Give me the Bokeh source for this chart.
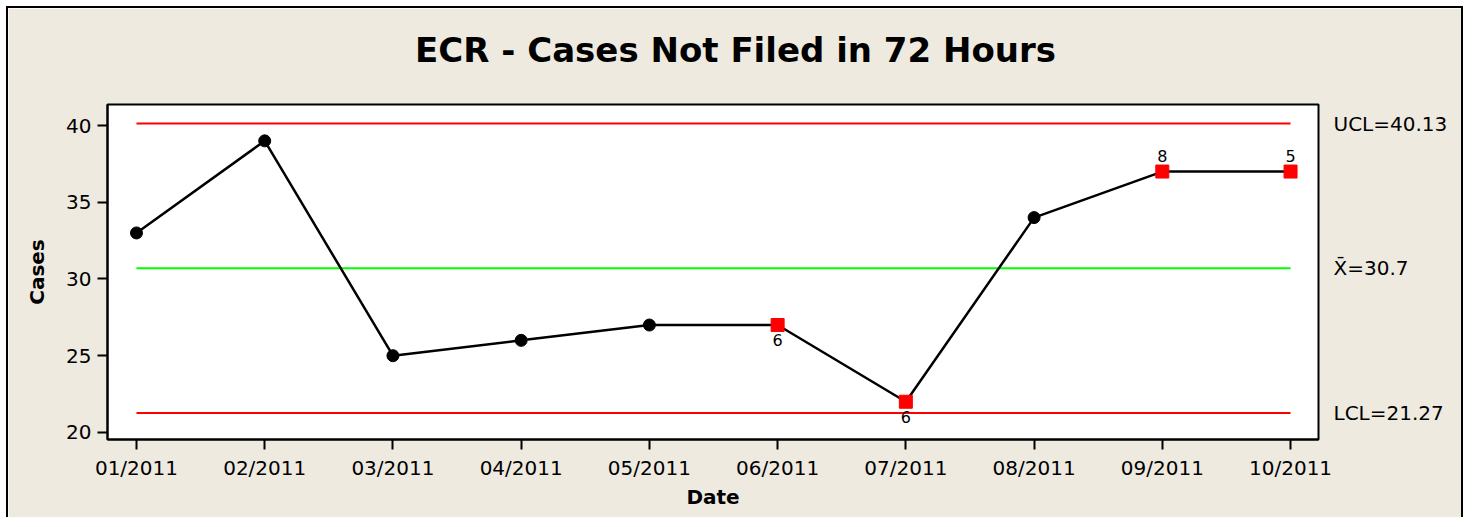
from bokeh.plotting import figure
from bokeh.models import FixedTicker, Label, Range1d, LinearAxis
from bokeh.embed import file_html
from bokeh.resources import INLINE

# ---- data ----
months = ["01/2011", "02/2011", "03/2011", "04/2011", "05/2011",
          "06/2011", "07/2011", "08/2011", "09/2011", "10/2011"]
cases = [33, 39, 25, 26, 27, 27, 22, 34, 37, 37]
flags = ["", "", "", "", "", "6", "6", "", "8", "5"]
flag_above = [False, False, False, False, False, False, False, False, True, True]
ucl = 40.13
center = 30.7
lcl = 21.27
limit_labels = ["UCL=40.13", "X\u0304=30.7", "LCL=21.27"]
title_text = "ECR - Cases Not Filed in 72 Hours"

BG = "#EEEAE0"
FONT = "DejaVu Sans"
TITLE_POS = 4.672  # horizontal anchor of the title (centered on the whole figure)

idx = list(range(len(months)))
normal_x = [i for i in idx if flags[i] == ""]
normal_y = [cases[i] for i in idx if flags[i] == ""]
red_x = [i for i in idx if flags[i] != ""]
red_y = [cases[i] for i in idx if flags[i] != ""]

p = figure(width=1457, height=511, output_backend="svg", toolbar_location=None,
           x_range=Range1d(-0.226, 9.218), y_range=Range1d(19.54, 41.37),
           min_border_left=99, min_border_right=147, min_border_top=96, min_border_bottom=80)
p.background_fill_color = "white"
p.border_fill_color = BG
p.outline_line_color = "black"
p.outline_line_width = 2
p.grid.visible = False
p.styles = {"border-left": "2px solid black", "border-top": "2px solid black",
            "border-right": "2px solid black", "margin-left": "6px", "margin-top": "6px"}

xa = p.below[0]
ya = p.left[0]

# limit lines
x_span = [idx[0], idx[-1]]
p.line(x_span, [ucl, ucl], line_color="#FF0000", line_width=2)
p.line(x_span, [lcl, lcl], line_color="#FF0000", line_width=2)
p.line(x_span, [center, center], line_color="#00FF00", line_width=2)

# data line
p.line(idx, cases, line_color="black", line_width=2.5)
p.scatter(normal_x, normal_y, marker="circle", size=12, fill_color="black", line_color="black")
p.scatter(red_x, red_y, marker="square", size=13, fill_color="#FF0000", line_color="#FF0000")

# flag labels
for i in red_x:
    p.add_layout(Label(x=i, y=cases[i], text=flags[i], text_font=FONT, text_font_size="16px",
                       text_align="center",
                       text_baseline="bottom" if flag_above[i] else "top",
                       y_offset=10 if flag_above[i] else -9, text_color="black"))

# axes
xa.ticker = FixedTicker(ticks=idx)
xa.major_label_overrides = {i: m for i, m in zip(idx, months)}
ya.ticker = FixedTicker(ticks=[20, 25, 30, 35, 40])
for ax in (xa, ya):
    ax.axis_line_width = 2
    ax.major_tick_line_width = 2
    ax.major_tick_out = 10
    ax.major_tick_in = 0
    ax.minor_tick_line_color = None
    ax.major_label_text_font = FONT
    ax.major_label_text_font_size = "20px"
    ax.major_label_text_color = "black"
    ax.axis_label_text_font = FONT
    ax.axis_label_text_font_size = "20px"
    ax.axis_label_text_font_style = "bold"
    ax.axis_label_text_color = "black"
xa.axis_label = "Date"
ya.axis_label = "Cases"
xa.major_label_standoff = 6
ya.major_label_standoff = 6
xa.axis_label_standoff = 2
ya.axis_label_standoff = 14

# title drawn as the single label of a bare axis above the frame
tax = LinearAxis(ticker=FixedTicker(ticks=[TITLE_POS]),
                 major_label_overrides={TITLE_POS: title_text},
                 axis_line_color=None, major_tick_line_color=None,
                 minor_tick_line_color=None, major_label_standoff=29,
                 major_label_text_font=FONT, major_label_text_font_size="34px",
                 major_label_text_font_style="bold", major_label_text_color="black",
                 major_label_text_baseline="alphabetic", major_label_text_align="center")
p.add_layout(tax, "above")

# right-side limit labels as a tickless axis
rax = LinearAxis(ticker=FixedTicker(ticks=[ucl, center, lcl]),
                 major_label_overrides={ucl: limit_labels[0], center: limit_labels[1],
                                        lcl: limit_labels[2]},
                 axis_line_color=None, major_tick_line_color=None,
                 minor_tick_line_color=None, major_label_standoff=9,
                 major_label_text_font=FONT, major_label_text_font_size="20px",
                 major_label_text_color="black")
p.add_layout(rax, "right")

open("out.html", "w").write(file_html(p, INLINE))
